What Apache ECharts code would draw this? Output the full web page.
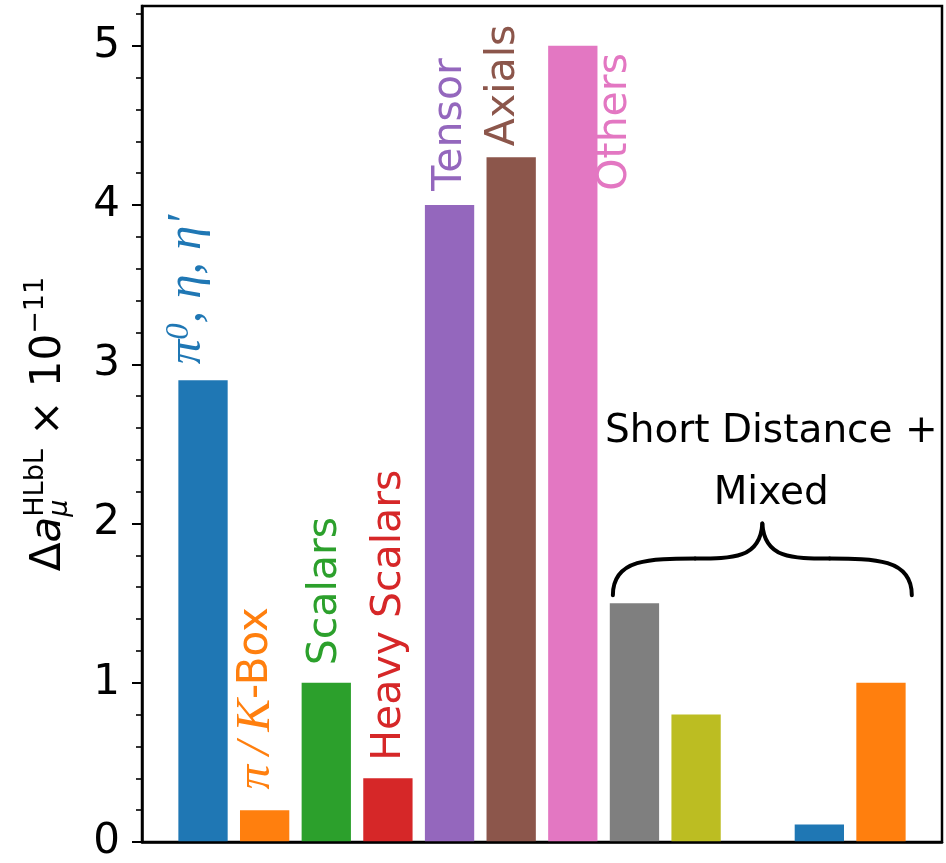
<!DOCTYPE html>
<html>
<head>
<meta charset="utf-8">
<script src="https://cdn.jsdelivr.net/npm/echarts@6/dist/echarts.min.js"></script>
<style>
  html, body { margin: 0; padding: 0; background: #fff; }
  #chart { width: 946px; height: 863px; }
</style>
</head>
<body>
<div id="chart"></div>
<script>
// HLbL contributions, in units of 1e-11
const slots = [0, 1, 2, 3, 4, 5, 6, 7, 8, 10, 11];
const values = [2.9, 0.2, 1.0, 0.4, 4.0, 4.3, 5.0, 1.5, 0.8, 0.11, 1.0];
const barColors = ['#1f77b4', '#ff7f0e', '#2ca02c', '#d62728', '#9467bd', '#8c564b',
                   '#e377c2', '#7f7f7f', '#bcbd22', '#1f77b4', '#ff7f0e'];

// y-axis ticks
const yTicks = [0, 1, 2, 3, 4, 5];
const yMinorTicks = [0.2, 0.4, 0.6, 0.8, 1.2, 1.4, 1.6, 1.8, 2.2, 2.4, 2.6, 2.8,
                     3.2, 3.4, 3.6, 3.8, 4.2, 4.4, 4.6, 4.8, 5.2];

// labels for the first seven bars (rich-text markup)
const categoryLabels = [
  '{m|π}{ms|0}{m|, η, η′}',
  '{m|π\u2009/\u2009K}{t|-Box}',
  'Scalars', 'Heavy Scalars', 'Tensor', 'Axials', 'Others'
];
// where each label starts, in data coordinates [x centre, y bottom]
const labelAnchors = [[-0.25, 3.0], [0.86, 0.33], [1.985, 1.11], [3.02, 0.51],
                      [4.01, 4.09], [4.87, 4.37], [6.69, 4.09]];

// group annotation over the last four slots
const groupTitle = ['Short Distance +', 'Mixed'];
const braceSpan = [6.65, 11.5];        // x range of the brace
const braceLevels = [1.55, 1.78, 2.0]; // ends, shoulders, tip
const groupTitleAnchor = [9.22, 2.38];

const X_RANGE = [-0.99, 11.99];
const Y_RANGE = [0, 5.25];

const SANS = 'DejaVu Sans';
const SERIF = 'Liberation Serif';

// measure text width for laying out the y-axis title
const mctx = document.createElement('canvas').getContext('2d');
function textW(str, font) { mctx.font = font; return mctx.measureText(str).width; }

function renderCategoryLabel(params, api) {
  const i = params.dataIndex;
  const p = api.coord([api.value(0), api.value(1)]);
  const c = barColors[i];
  return {
    type: 'text', x: p[0], y: p[1], rotation: Math.PI / 2,
    style: {
      text: categoryLabels[i], fill: c, fontSize: 41, fontFamily: SANS,
      align: 'left', verticalAlign: 'middle',
      rich: {
        m: { fontFamily: SERIF, fontStyle: 'italic', fontSize: 49, fill: c },
        ms: { fontFamily: SERIF, fontStyle: 'italic', fontSize: 33, verticalAlign: 'top', fill: c },
        t: { fontFamily: SANS, fontSize: 42, fill: c }
      }
    }
  };
}

function renderBrace(params, api) {
  const a = api.coord([braceSpan[0], braceLevels[0]]);
  const b = api.coord([braceSpan[1], braceLevels[0]]);
  const sh = api.coord([braceSpan[0], braceLevels[1]])[1];
  const tip = api.coord([(braceSpan[0] + braceSpan[1]) / 2, braceLevels[2]]);
  const half = (b[0] - a[0]) / 2;
  const xm = tip[0];
  const segs = [
    [a[0], a[1], a[0], sh, a[0] + half * 0.25, sh, a[0] + half * 0.55, sh],
    [a[0] + half * 0.55, sh, xm - half * 0.2, sh, xm - 2, sh, xm, tip[1]],
    [xm, tip[1], xm + 2, sh, xm + half * 0.2, sh, b[0] - half * 0.55, sh],
    [b[0] - half * 0.55, sh, b[0] - half * 0.25, sh, b[0], sh, b[0], b[1]]
  ];
  const title = api.coord(groupTitleAnchor);
  return {
    type: 'group',
    children: segs.map(s => ({
      type: 'bezierCurve',
      shape: { x1: s[0], y1: s[1], cpx1: s[2], cpy1: s[3], cpx2: s[4], cpy2: s[5], x2: s[6], y2: s[7] },
      style: { fill: null, stroke: '#000', lineWidth: 4, lineCap: 'round' }
    })).concat([{
      type: 'text', x: title[0], y: title[1],
      style: {
        text: groupTitle.join('\n'), fill: '#000', fontSize: 39, fontFamily: SANS,
        lineHeight: 62, align: 'center', verticalAlign: 'middle'
      }
    }])
  };
}

// y-axis title: Δa_μ^HLbL × 10^−11, laid out along a rotated baseline
function renderYTitle(params, api) {
  const F = 42, FS = 27;
  const parts = [
    { t: 'Δ', size: F, italic: false, dy: 0, adv: true },
    { t: 'a', size: F, italic: true, dy: 0, adv: true },
    { t: 'μ', size: FS, italic: true, dy: 6, adv: false },
    { t: 'HLbL', size: FS, italic: false, dy: -18, adv: true },
    { t: ' × 10', size: F, italic: false, dy: 0, adv: true },
    { t: '−11', size: FS, italic: false, dy: -18, adv: true }
  ];
  let cursor = 0;
  const placed = parts.map(pt => {
    const w = textW(pt.t, (pt.italic ? 'italic ' : '') + pt.size + 'px "' + SANS + '"');
    const item = Object.assign({}, pt, { x: cursor });
    if (pt.adv) cursor += w;
    return item;
  });
  const bottom = api.coord([X_RANGE[0], Y_RANGE[0]]);
  const top = api.coord([X_RANGE[0], Y_RANGE[1]]);
  return {
    type: 'group', x: bottom[0] - 79, y: (bottom[1] + top[1]) / 2, rotation: Math.PI / 2,
    children: placed.map(pt => ({
      type: 'text', x: pt.x - cursor / 2, y: pt.dy - pt.size * 0.33,
      style: {
        text: pt.t, fill: '#000', fontSize: pt.size, fontFamily: SANS,
        fontStyle: pt.italic ? 'italic' : 'normal',
        align: 'left', verticalAlign: 'middle'
      }
    }))
  };
}

const chart = echarts.init(document.getElementById('chart'));

chart.setOption({
  animation: false,
  textStyle: { fontFamily: SANS },
  grid: {
    left: 142, right: 4, top: 6, bottom: 17,
    show: true, borderColor: '#000', borderWidth: 2.5, backgroundColor: 'transparent'
  },
  xAxis: {
    type: 'value', min: X_RANGE[0], max: X_RANGE[1], z: 5,
    axisLine: { show: true, onZero: false, lineStyle: { color: '#000', width: 2.5 } },
    axisTick: { show: false }, axisLabel: { show: false }, splitLine: { show: false }
  },
  yAxis: [{
    type: 'value', min: Y_RANGE[0], max: Y_RANGE[1], interval: 1, z: 5,
    axisLine: { show: true, onZero: false, lineStyle: { color: '#000', width: 2.5 } },
    axisTick: { show: true, length: 10, lineStyle: { color: '#000', width: 2 }, customValues: yTicks },
    axisLabel: { customValues: yTicks, fontSize: 42, fontFamily: SANS, color: '#000', margin: 22 },
    splitLine: { show: false }
  }, {
    type: 'value', min: Y_RANGE[0], max: Y_RANGE[1], position: 'left', z: 5,
    axisLine: { show: false, onZero: false },
    axisTick: { show: true, length: 6, lineStyle: { color: '#000', width: 1.6 }, customValues: yMinorTicks },
    axisLabel: { show: false }, splitLine: { show: false }
  }],
  series: [{
    type: 'bar', barWidth: '80%', z: 2,
    data: slots.map((s, i) => ({ value: [s, values[i]], itemStyle: { color: barColors[i] } }))
  }, {
    type: 'custom', z: 10, silent: true, clip: false,
    renderItem: renderCategoryLabel,
    data: labelAnchors
  }, {
    type: 'custom', z: 10, silent: true, clip: false,
    renderItem: renderBrace,
    data: [braceSpan]
  }, {
    type: 'custom', z: 10, silent: true, clip: false,
    renderItem: renderYTitle,
    data: [[X_RANGE[0], Y_RANGE[0]]]
  }]
});
</script>
</body>
</html>
